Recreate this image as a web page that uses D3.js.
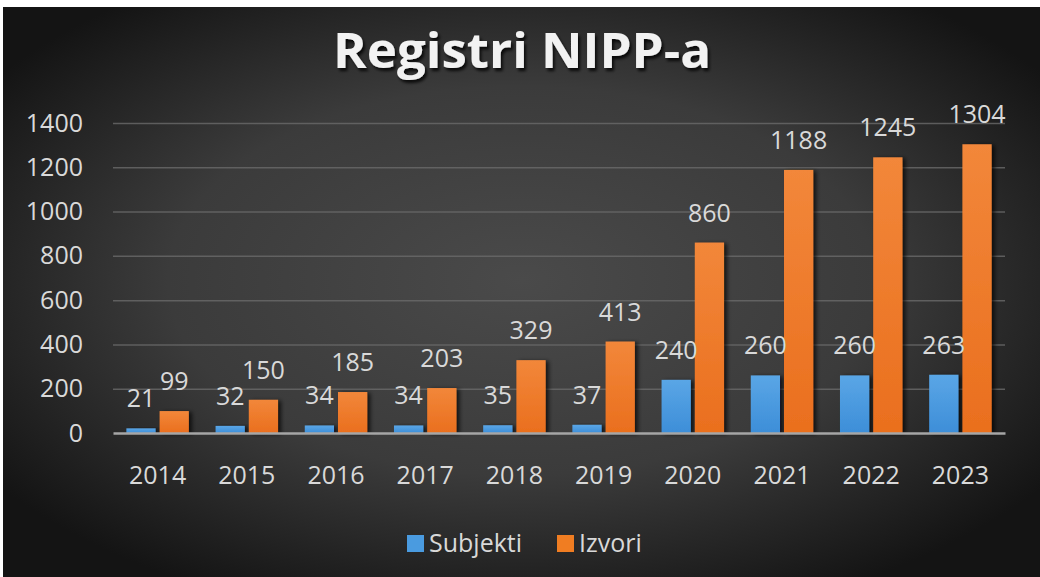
<!DOCTYPE html>
<html>
<head>
<meta charset="utf-8">
<script src="https://cdn.jsdelivr.net/npm/d3@7"></script>
<style>
  body { margin: 0; background: #fff; }
  svg { display: block; }
</style>
</head>
<body>
<svg></svg>
<script>
const years = ['2014', '2015', '2016', '2017', '2018', '2019', '2020', '2021', '2022', '2023'];
const subjekti = [21, 32, 34, 34, 35, 37, 240, 260, 260, 263];
const izvori = [99, 150, 185, 203, 329, 413, 860, 1188, 1245, 1304];
const seriesNames = ['Subjekti', 'Izvori'];
const yTicks = [0, 200, 400, 600, 800, 1000, 1200, 1400];

const svg = d3.select('svg')
	.attr('width', 1040)
	.attr('height', 577);

const width = +svg.attr('width'),
	height = +svg.attr('height');

const font = "'Open Sans', 'DejaVu Sans', sans-serif";
const colors = { Subjekti: 'url(#gBlue)', Izvori: 'url(#gOrange)' };
const legendColors = { Subjekti: '#4a9be0', Izvori: '#f07d22' };

const defs = svg.append('defs');

const bg = defs.append('radialGradient')
	.attr('id', 'bg')
	.attr('cx', '50%').attr('cy', '48%').attr('r', '62%');
bg.append('stop').attr('offset', '0%').attr('stop-color', '#4a4a4a');
bg.append('stop').attr('offset', '55%').attr('stop-color', '#3b3b3b');
bg.append('stop').attr('offset', '100%').attr('stop-color', '#141414');

const gBlue = defs.append('linearGradient').attr('id', 'gBlue')
	.attr('x1', 0).attr('y1', 0).attr('x2', 0).attr('y2', 1);
gBlue.append('stop').attr('offset', '0%').attr('stop-color', '#5aa6e6');
gBlue.append('stop').attr('offset', '100%').attr('stop-color', '#3d8ed8');

const gOrange = defs.append('linearGradient').attr('id', 'gOrange')
	.attr('x1', 0).attr('y1', 0).attr('x2', 0).attr('y2', 1);
gOrange.append('stop').attr('offset', '0%').attr('stop-color', '#f2873a');
gOrange.append('stop').attr('offset', '100%').attr('stop-color', '#ea6f1e');

const shadow = defs.append('filter').attr('id', 'shadow')
	.attr('x', '-20%').attr('y', '-20%').attr('width', '160%').attr('height', '140%');
shadow.append('feDropShadow')
	.attr('dx', 3).attr('dy', 1).attr('stdDeviation', 2)
	.attr('flood-color', '#000').attr('flood-opacity', 0.7);

const tshadow = defs.append('filter').attr('id', 'tshadow')
	.attr('x', '-10%').attr('y', '-20%').attr('width', '120%').attr('height', '150%');
tshadow.append('feDropShadow')
	.attr('dx', 2).attr('dy', 3).attr('stdDeviation', 1.5)
	.attr('flood-color', '#000').attr('flood-opacity', 0.8);

// background panel
svg.append('rect')
	.attr('x', 3).attr('y', 7)
	.attr('width', width - 3).attr('height', height - 7)
	.attr('fill', 'url(#bg)');

const margin = { top: 123, right: 35, bottom: 144, left: 113 },
	innerWidth = width - margin.left - margin.right,
	innerHeight = height - margin.top - margin.bottom;

const xScale = d3.scaleBand()
	.domain(years)
	.range([0, innerWidth])
	.paddingInner(0.3)
	.paddingOuter(0.15);

const xSub = d3.scaleBand()
	.domain(seriesNames)
	.range([0, xScale.bandwidth()])
	.paddingInner(0.12);

const yScale = d3.scaleLinear()
	.domain([0, 1400])
	.range([innerHeight, 0]);

const g = svg.append('g')
	.attr('transform', `translate(${margin.left}, ${margin.top})`);

// gridlines + y labels
const yAxis = d3.axisLeft(yScale)
	.tickValues(yTicks)
	.tickFormat(d3.format('d'))
	.tickSize(-innerWidth)
	.tickPadding(30);

const yAxisG = g.append('g').call(yAxis);
yAxisG.select('.domain').remove();
yAxisG.selectAll('line')
	.attr('stroke', '#6a6a6a')
	.attr('stroke-width', 1.5)
	.attr('stroke-opacity', d => d === 0 ? 0 : 0.8);
yAxisG.selectAll('text')
	.attr('fill', '#d9d9d9')
	.style('font-family', font)
	.style('font-size', '25px');

const data = years.map((y, i) => ({ year: y, Subjekti: subjekti[i], Izvori: izvori[i] }));

const groups = g.selectAll('.grp')
	.data(data)
	.enter().append('g')
	.attr('class', 'grp')
	.attr('transform', d => `translate(${xScale(d.year)}, 0)`);

groups.selectAll('rect')
	.data(d => seriesNames.map(k => ({ key: k, value: d[k] })))
	.enter().append('rect')
	.attr('x', d => xSub(d.key))
	.attr('y', d => yScale(d.value))
	.attr('width', xSub.bandwidth())
	.attr('height', d => innerHeight - yScale(d.value))
	.attr('fill', d => colors[d.key])
	.attr('filter', 'url(#shadow)');

groups.selectAll('.lbl')
	.data(d => seriesNames.map(k => ({ key: k, value: d[k] })))
	.enter().append('text')
	.attr('class', 'lbl')
	.attr('x', d => xSub(d.key) + xSub.bandwidth() / 2)
	.attr('y', d => yScale(d.value) - 21)
	.attr('text-anchor', 'middle')
	.attr('fill', '#d9d9d9')
	.style('font-family', font)
	.style('font-size', '25px')
	.text(d => d.value);

// x axis
const xAxis = d3.axisBottom(xScale)
	.tickSize(0)
	.tickPadding(33);

const xAxisG = g.append('g').call(xAxis)
	.attr('transform', `translate(0, ${innerHeight})`);
xAxisG.select('.domain')
	.attr('stroke', '#a6a6a6')
	.attr('stroke-width', 2.5);
xAxisG.selectAll('text')
	.attr('fill', '#d9d9d9')
	.style('font-family', font)
	.style('font-size', '25px');

// title
svg.append('text')
	.attr('x', 522)
	.attr('y', 68)
	.attr('text-anchor', 'middle')
	.attr('fill', '#f2f2f2')
	.attr('filter', 'url(#tshadow)')
	.attr('textLength', 378)
	.attr('lengthAdjust', 'spacingAndGlyphs')
	.style('font-family', font)
	.style('font-weight', 'bold')
	.style('font-size', '48px')
	.text('Registri NIPP-a');

// legend
const legendX = [407, 557];
const legend = svg.append('g');
seriesNames.forEach((name, i) => {
	const lg = legend.append('g').attr('transform', `translate(${legendX[i]}, 535)`);
	lg.append('rect')
		.attr('width', 17).attr('height', 17)
		.attr('fill', legendColors[name]);
	lg.append('text')
		.attr('x', 22).attr('y', 17)
		.attr('fill', '#d9d9d9')
		.style('font-family', font)
		.style('font-size', '25px')
		.text(name);
});
</script>
</body>
</html>
